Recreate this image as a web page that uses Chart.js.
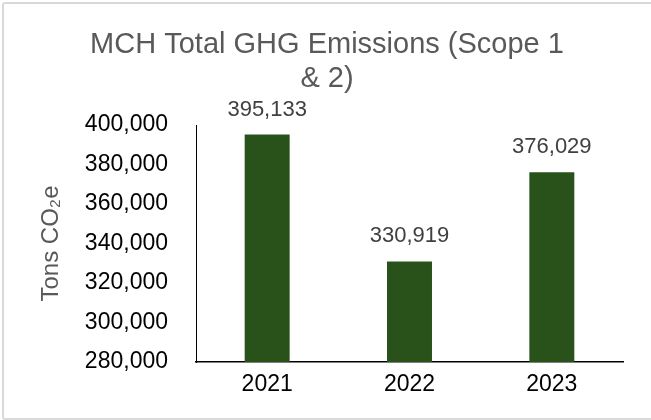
<!DOCTYPE html>
<html>
<head>
    <title>MCH Total GHG Emissions</title>
    <style>
        body {
            margin: 0;
            background: #ffffff;
            font-family: Arial, "Liberation Sans", sans-serif;
        }
        #frame {
            position: absolute;
            left: 2px;
            top: 2px;
            width: 680px;
            height: 414px;
            border: 2px solid #d9d9d9;
            border-radius: 3px;
        }
        #chart-container {
            position: absolute;
            left: 0;
            top: 0;
            width: 651px;
            height: 420px;
        }
    </style>
</head>
<body>
    <script src="https://cdn.jsdelivr.net/npm/chart.js@4"></script>
    <div id="frame"></div>
    <div id="chart-container">
        <canvas id="ghgChart" width="651" height="420"></canvas>
    </div>

    <script>
        // data
        const years = ['2021', '2022', '2023'];
        const emissions = [395133, 330919, 376029];
        const yTicks = [280000, 300000, 320000, 340000, 360000, 380000, 400000];
        const titleLines = ['MCH Total GHG Emissions (Scope 1', '& 2)'];
        const yTitle = 'Tons CO\u2082e';

        const fontFamily = 'Arial, "Liberation Sans", sans-serif';

        function fmt(v) {
            return v.toLocaleString('en-US');
        }

        // title + value labels above bars
        const textPlugin = {
            id: 'textPlugin',
            afterDatasetsDraw(chart) {
                const ctx = chart.ctx;
                ctx.save();
                ctx.textAlign = 'center';
                ctx.textBaseline = 'middle';

                ctx.fillStyle = '#595959';
                ctx.font = '29px ' + fontFamily;
                ctx.fillText(titleLines[0], 327, 45);
                ctx.fillText(titleLines[1], 327, 79);

                ctx.fillStyle = '#404040';
                ctx.font = '22px ' + fontFamily;
                const meta = chart.getDatasetMeta(0);
                meta.data.forEach((bar, i) => {
                    ctx.fillText(fmt(emissions[i]), bar.x, bar.y - 25);
                });
                ctx.restore();
            }
        };

        new Chart('ghgChart', {
            type: 'bar',
            data: {
                labels: years,
                datasets: [{
                    data: emissions,
                    backgroundColor: '#28521a',
                    barPercentage: 0.316,
                    categoryPercentage: 1.0
                }]
            },
            options: {
                responsive: false,
                devicePixelRatio: 1,
                animation: false,
                layout: {
                    padding: { left: 0, right: 28, top: 125, bottom: 0 }
                },
                plugins: {
                    legend: { display: false },
                    tooltip: { enabled: false }
                },
                scales: {
                    x: {
                        grid: { display: false, drawTicks: false },
                        border: { display: true, color: '#000000', width: 1.5 },
                        ticks: {
                            color: '#000000',
                            font: { family: fontFamily, size: 23 },
                            padding: 9
                        },
                        afterFit(scale) {
                            scale.height = 58;
                        }
                    },
                    y: {
                        min: yTicks[0],
                        max: yTicks[yTicks.length - 1],
                        grid: { display: false, drawTicks: false },
                        border: { display: true, color: '#000000', width: 1 },
                        afterBuildTicks(scale) {
                            scale.ticks = yTicks.map(v => ({ value: v }));
                        },
                        ticks: {
                            color: '#000000',
                            font: { family: fontFamily, size: 23 },
                            padding: 28,
                            callback: v => fmt(v)
                        },
                        title: {
                            display: true,
                            text: yTitle,
                            color: '#595959',
                            font: { family: fontFamily, size: 24 },
                            padding: { top: 37, bottom: 0 }
                        },
                        afterFit(scale) {
                            scale.width = 196;
                        }
                    }
                }
            },
            plugins: [textPlugin]
        });
    </script>
</body>
</html>
